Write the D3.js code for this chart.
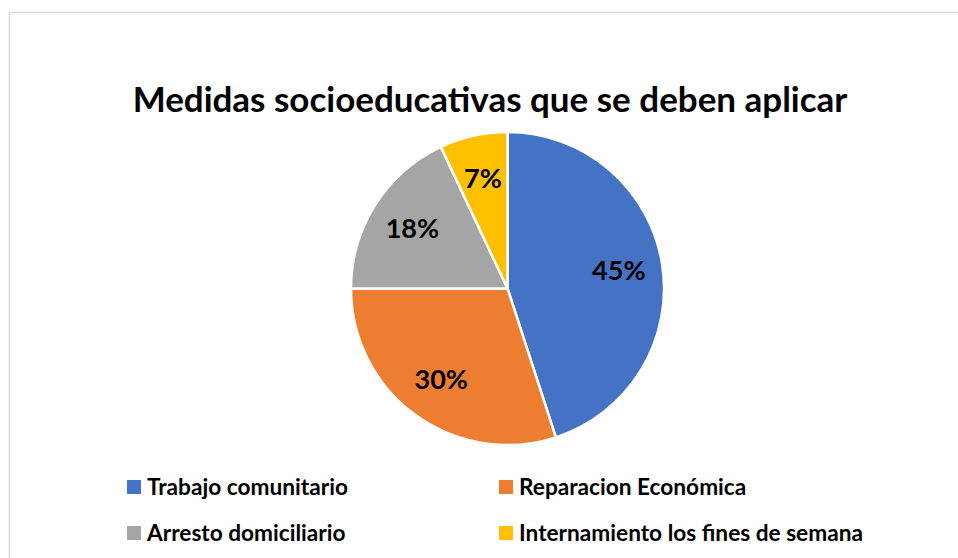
<!DOCTYPE html>
<html>
<head>
<meta charset="utf-8">
<script src="https://cdn.jsdelivr.net/npm/d3@7"></script>
<style>
  body { margin: 0; background: #fff; }
  text { font-family: Lato, "Open Sans", sans-serif; font-weight: bold; }
</style>
</head>
<body>
<div id="chart"></div>
<script>
// datos del grafico
const categorias = ["Trabajo comunitario", "Reparacion Económica", "Arresto domiciliario", "Internamiento los fines de semana"];
const valores = [45, 30, 18, 7];
const colores = ["#4472C4", "#ED7D31", "#A5A5A5", "#FFC000"];
const titulo = "Medidas socioeducativas que se deben aplicar";

const width = 958;
const height = 558;
const cx = 507.5, cy = 288.5, radio = 156.5;

const svg = d3.select("#chart")
    .append("svg")
    .attr("width", width)
    .attr("height", height);

// marco
svg.append("rect")
    .attr("x", 9.5)
    .attr("y", 12.5)
    .attr("width", width + 10)
    .attr("height", height + 10)
    .attr("fill", "#fff")
    .attr("stroke", "#d9d9d9")
    .attr("stroke-width", 1.5);

// titulo, ajustado al ancho del original
const t = svg.append("text")
    .attr("x", 490)
    .attr("y", 112)
    .attr("text-anchor", "middle")
    .style("font-size", "34px")
    .text(titulo);
const tw = t.node().getComputedTextLength();
t.style("font-size", (34 * 715 / tw) + "px");

// pastel
const pie = d3.pie().sort(null).value(d => d);
const arc = d3.arc().innerRadius(0).outerRadius(radio);
const arcLabel = d3.arc().innerRadius(radio * 0.72).outerRadius(radio * 0.72);

const g = svg.append("g").attr("transform", "translate(" + cx + "," + cy + ")");

const arcos = pie(valores);

g.selectAll("path")
    .data(arcos)
    .enter()
    .append("path")
    .attr("d", arc)
    .attr("fill", (d, i) => colores[i])
    .attr("stroke", "#fff")
    .attr("stroke-width", 2.5)
    .attr("stroke-linejoin", "round");

g.selectAll(".etiqueta")
    .data(arcos)
    .enter()
    .append("text")
    .attr("class", "etiqueta")
    .attr("transform", d => "translate(" + arcLabel.centroid(d) + ")")
    .attr("text-anchor", "middle")
    .attr("dy", "0.35em")
    .style("font-size", "27px")
    .attr("fill", "#000")
    .text(d => d.data + "%");

// leyenda
const leyX = [127, 499];
const leyY = [487, 533];

const ley = svg.selectAll(".ley")
    .data(categorias)
    .enter()
    .append("g")
    .attr("class", "ley")
    .attr("transform", (d, i) => "translate(" + leyX[i % 2] + "," + leyY[Math.floor(i / 2)] + ")");

ley.append("rect")
    .attr("x", 0)
    .attr("y", -7)
    .attr("width", 14)
    .attr("height", 14)
    .attr("fill", (d, i) => colores[i]);

const leyText = ley.append("text")
    .attr("x", 20)
    .attr("dy", "0.35em")
    .style("font-size", "19px")
    .text(d => d);

// escalar el texto de la leyenda al ancho medido en el original
const lw = leyText.nodes()[0].getComputedTextLength();
leyText.style("font-size", (19 * 201 / lw) + "px");
</script>
</body>
</html>
